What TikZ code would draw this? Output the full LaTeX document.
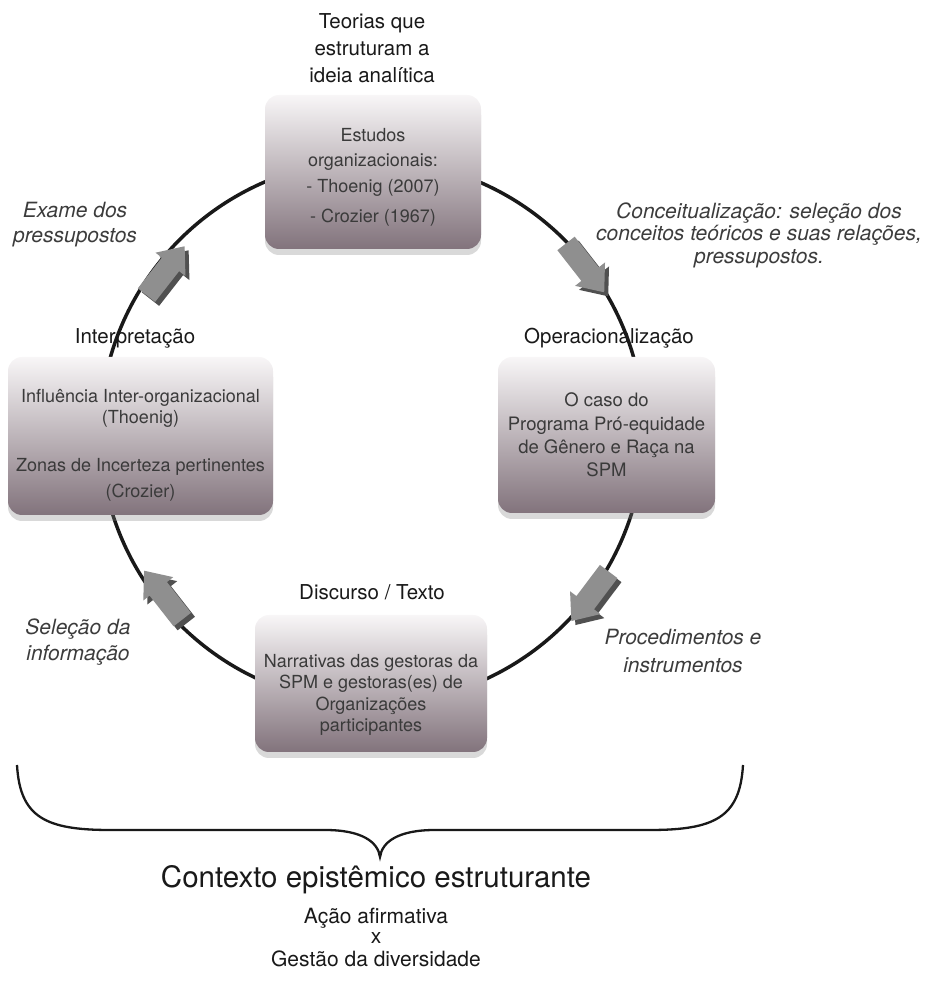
\documentclass[tikz,border=0pt]{standalone}
\usepackage{fontspec}
\setmainfont{TeX Gyre Heros}
\usetikzlibrary{shadows,calc}
\def\cyclecircle{(372,550) circle (272)}
\def\flowshape{(-31,-11) -- (8,-11) -- (8,-19) -- (31,0) -- (8,19) -- (8,11) -- (-31,11) -- cycle}
\definecolor{boxtop}{HTML}{F8F6F7}
\definecolor{boxbottom}{HTML}{82737C}
\definecolor{boxtext}{HTML}{3A3A3A}
\definecolor{notetext}{HTML}{3C3C3C}
\definecolor{arrowface}{HTML}{8F8F8F}
\definecolor{arrowside}{HTML}{505050}
\tikzset{card/.style={rounded corners=14pt, top color=boxtop, bottom color=boxbottom,
		drop shadow={shadow xshift=0pt, shadow yshift=-6pt, opacity=0.3}, inner sep=0pt},
	cardtext/.style={align=center, text=boxtext, inner sep=0pt, font=\fontsize{18}{21}\selectfont},
	heading/.style={align=center, text=black!90, font=\fontsize{20.5}{27}\selectfont},
	note/.style={align=center, text=notetext, font=\fontsize{21}{22.5}\selectfont\itshape},
	context/.style={text=black!90, inner sep=0pt, font=\fontsize{21}{24}\selectfont},
	cycleline/.style={draw=black!90, line width=3.5pt}}

\begin{document}
\begin{tikzpicture}[x=1pt,y=1pt]
		\useasboundingbox (0,0) rectangle (929,982);
		\coordinate (c) at (372,550);
		\draw[cycleline] \cyclecircle;
		
		% arrows on the cycle
		\fill[arrowside, shift={($(c)+(142:262)+(4,-4)$)}, rotate=52] \flowshape;
		\fill[arrowface, shift={($(c)+(142:262)$)}, rotate=52] \flowshape;
		\fill[arrowside, shift={($(c)+(37.6:269)+(4,-4)$)}, rotate=-52] \flowshape;
		\fill[arrowface, shift={($(c)+(37.6:269)$)}, rotate=-52] \flowshape;
		\fill[arrowside, shift={($(c)+(-37:273)+(4,-4)$)}, rotate=-127] \flowshape;
		\fill[arrowface, shift={($(c)+(-37:273)$)}, rotate=-127] \flowshape;
		\fill[arrowside, shift={($(c)+(218:265)+(4,-4)$)}, rotate=128] \flowshape;
		\fill[arrowface, shift={($(c)+(218:265)$)}, rotate=128] \flowshape;
		
		% boxes
		\node[card, minimum width=216pt, minimum height=154pt] (theory) at (373,810) {};
		\node[card, minimum width=217pt, minimum height=156pt] (oper) at (606.5,547) {};
		\node[card, minimum width=265pt, minimum height=158pt] (interp) at (140.5,546) {};
		\node[card, minimum width=232pt, minimum height=137pt] (disc) at (371,298.5) {};
		
		\node[cardtext, font=\fontsize{18}{25}\selectfont] (theorytext) at (373,804.5)
		{Estudos\\organizacionais:\\[1pt]- Thoenig (2007)\\[5pt]- Crozier (1967)};
		\node[cardtext, font=\fontsize{18.5}{23.3}\selectfont] (opertext) at (606.5,547)
		{O caso do\\Programa Pró-equidade\\de Gênero e Raça na\\SPM};
		\node[cardtext] (interptext) at (140.5,536.5)
		{Influência Inter-organizacional\\(Thoenig)\\[27pt]Zonas de Incerteza pertinentes\\[5pt](Crozier)};
		\node[cardtext, font=\fontsize{18}{21.3}\selectfont] (disctext) at (371,287)
		{Narrativas das gestoras da\\SPM e gestoras(es) de\\Organizações\\participantes};
		
		% titles
		\node[heading] (theorytitle) at (372,934) {Teorias que\\estruturam a\\ideia analítica};
		\node[heading] (opertitle) at (609,644) {Operacionalização};
		\node[heading] (interptitle) at (135,644) {Interpretação};
		\node[heading] (disctitle) at (372,390) {Discurso / Texto};
		
		% notes
		\node[note, font=\fontsize{21}{25}\selectfont\itshape] (examnote) at (75,757) {Exame dos\\pressupostos};
		\node[note] (conceptnote) at (759,747)
		{Conceitualização: seleção dos\\conceitos teóricos e suas relações,\\pressupostos.};
		\node[note, font=\fontsize{21}{26}\selectfont\itshape] (selectnote) at (78,340) {Seleção da\\informação};
		\node[note, font=\fontsize{21}{28}\selectfont\itshape] (procnote) at (683,331) {Procedimentos e\\instrumentos};
		
		% context brace
		\draw[line width=2.3pt, black!90] (17,217) .. controls (20,165) and (45,152) .. (110,152) -- (325,152)
		.. controls (362,152) and (378,140) .. (380,125)
		.. controls (382,140) and (398,152) .. (435,152) -- (650,152)
		.. controls (715,152) and (740,165) .. (743,217);
		\node[context, font=\fontsize{29.5}{34}\selectfont] (ctxtitle) at (376,102) {Contexto epistêmico estruturante};
		\node[context] (affirm) at (376,64) {Ação afirmativa};
		\node[context] (versus) at (376,44) {x};
		\node[context] (divers) at (376,23) {Gestão da diversidade};
\end{tikzpicture}
\end{document}
